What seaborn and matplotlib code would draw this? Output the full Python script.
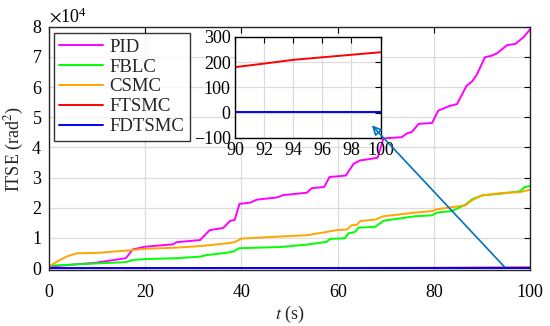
import pandas as pd
import matplotlib
matplotlib.use('Agg')
import matplotlib.pyplot as plt
import matplotlib.ticker as mticker
import seaborn as sns
import numpy as np

# ITSE curves (values in units of 1e4 rad^2)
t_pid = [0, 9.8, 16, 17.4, 20, 25.8, 26.5, 31.4, 33.4, 36.2, 37.6, 38.6, 39.6, 41.8, 43.2, 47.3,
         48.7, 53.6, 54.6, 57.2, 58.3, 59.8, 61.7, 63.3, 64.7, 66.4, 68.3, 69.5, 73.3, 74.4, 75.4,
         76.8, 79.6, 80.9, 83.0, 84.8, 86.8, 87.9, 88.9, 90.6, 92.0, 93.1, 95.2, 96.9, 98.6, 100]
pid = [0.05, 0.18, 0.33, 0.62, 0.71, 0.79, 0.86, 0.93, 1.26, 1.33, 1.56, 1.6, 2.13, 2.17, 2.27, 2.34,
       2.42, 2.5, 2.65, 2.69, 3.02, 3.04, 3.07, 3.46, 3.57, 3.61, 3.66, 4.3, 4.34, 4.47, 4.51,
       4.78, 4.81, 5.22, 5.36, 5.44, 6.05, 6.18, 6.41, 6.99, 7.04, 7.12, 7.39, 7.43, 7.65, 7.92]

t_fblc = [0, 10.5, 16, 17.4, 20, 26.5, 31.4, 32.7, 36.9, 38.3, 39.5, 48, 53.6, 57.7, 58.4, 61.5,
          62.2, 63.6, 64.3, 67.8, 69.5, 76.1, 79.6, 80.6, 83.7, 86.5, 87.9, 90, 94.1, 97.9, 98.9, 100]
fblc = [0.08, 0.16, 0.2, 0.27, 0.3, 0.33, 0.38, 0.43, 0.51, 0.55, 0.66, 0.7, 0.78, 0.87, 0.97, 0.99,
        1.15, 1.2, 1.34, 1.37, 1.57, 1.72, 1.75, 1.84, 1.89, 2.1, 2.28, 2.41, 2.47, 2.55, 2.69, 2.72]

t_csmc = [0, 1.5, 3.6, 5.7, 10.5, 16, 20, 26.5, 31.4, 36.9, 38.6, 40, 47, 53.6, 57.7, 59.8, 61.9,
          62.9, 64, 64.7, 67.8, 69.5, 76.1, 79.6, 80.6, 86.5, 87.9, 90, 94.1, 97.9, 100]
csmc = [0.05, 0.2, 0.38, 0.49, 0.51, 0.58, 0.64, 0.68, 0.73, 0.82, 0.86, 0.98, 1.04, 1.09, 1.2, 1.26,
        1.28, 1.42, 1.44, 1.56, 1.61, 1.72, 1.84, 1.89, 1.95, 2.08, 2.25, 2.41, 2.49, 2.52, 2.6]

# FTSMC and FDTSMC (rad^2), only readable in the zoomed inset
t_ftsmc = [0, 20, 40, 60, 80, 90, 92, 94, 96, 98, 100]
ftsmc = [0, 15, 35, 60, 100, 180, 194, 209, 219, 229, 239]
t_fdtsmc = [0, 20, 40, 60, 80, 90, 100]
fdtsmc = [2, 2, 2, 2, 2, 2, 2]

names = ['PID', 'FBLC', 'CSMC', 'FTSMC', 'FDTSMC']
colors = ['#ff00ff', '#00ff00', '#ffa500', '#ff0000', '#0000ff']

frames = [
    pd.DataFrame({'t': t_pid, 'ITSE': np.array(pid) * 1e4, 'method': 'PID'}),
    pd.DataFrame({'t': t_fblc, 'ITSE': np.array(fblc) * 1e4, 'method': 'FBLC'}),
    pd.DataFrame({'t': t_csmc, 'ITSE': np.array(csmc) * 1e4, 'method': 'CSMC'}),
    pd.DataFrame({'t': t_ftsmc, 'ITSE': ftsmc, 'method': 'FTSMC'}),
    pd.DataFrame({'t': t_fdtsmc, 'ITSE': fdtsmc, 'method': 'FDTSMC'}),
]
df = pd.concat(frames, ignore_index=True)

sns.set_theme(style='whitegrid')
plt.rcParams['font.family'] = ['Liberation Serif', 'DejaVu Serif']
plt.rcParams['mathtext.fontset'] = 'stix'
fs = 13

fig = plt.figure(figsize=(5.5, 3.26), dpi=100)
ax = fig.add_axes([0.089, 0.171, 0.875, 0.747])
sns.lineplot(data=df, x='t', y='ITSE', hue='method', hue_order=names, palette=colors,
             estimator=None, sort=False, linewidth=1.4, ax=ax)
ax.set_xlim(0, 100)
ax.set_ylim(-700, 80000)
ax.set_xticks(np.arange(0, 101, 20))
ax.set_yticks(np.arange(0, 80001, 10000))
fmt = mticker.ScalarFormatter(useMathText=True)
fmt.set_powerlimits((0, 0))
ax.yaxis.set_major_formatter(fmt)
ax.yaxis.get_offset_text().set_fontsize(fs)
ax.set_xlabel('$t$ (s)', fontsize=fs, labelpad=2)
ax.set_ylabel('ITSE (rad$^2$)', fontsize=fs, labelpad=4)
ax.tick_params(direction='in', top=True, right=True, labelsize=fs, length=4, width=0.8,
               colors='black')
ax.tick_params(axis='x', pad=10)
ax.tick_params(axis='y', pad=5)
for s in ax.spines.values():
    s.set_color('#262626')
    s.set_linewidth(1.0)
ax.grid(True, color='#dcdcdc', linewidth=0.9)

leg = ax.legend(loc='upper left', bbox_to_anchor=(0.01, 0.975), fontsize=13.5,
                handlelength=2.3, frameon=True, fancybox=False, borderpad=0.3,
                labelspacing=0.15, handletextpad=0.35, borderaxespad=0)
leg.get_frame().set_edgecolor('black')
leg.get_frame().set_linewidth(1.0)

# inset zoom over the last 10 s
axin = fig.add_axes([0.427, 0.577, 0.265, 0.31])
sns.lineplot(data=df[df['method'].isin(['FTSMC', 'FDTSMC'])], x='t', y='ITSE', hue='method',
             hue_order=['FTSMC', 'FDTSMC'], palette=colors[3:], estimator=None, sort=False,
             linewidth=1.4, legend=False, ax=axin)
axin.set_xlim(90, 100)
axin.set_ylim(-100, 300)
axin.set_xticks(np.arange(90, 101, 2))
axin.set_yticks(np.arange(-100, 301, 100))
axin.set_xlabel('')
axin.set_ylabel('')
axin.tick_params(direction='in', top=True, right=True, labelsize=fs, length=4, width=0.8,
                 colors='black', pad=3)
for s in axin.spines.values():
    s.set_color('black')
    s.set_linewidth(1.0)
axin.grid(True, color='#dcdcdc', linewidth=0.9)

axin.annotate('', xy=(67.1, 47300), xycoords=ax.transData, xytext=(94.6, 500),
              textcoords=ax.transData, annotation_clip=False,
              arrowprops=dict(arrowstyle='-|>', color='#0072BD', lw=1.2,
                              mutation_scale=14, fill=False, shrinkA=0, shrinkB=0))

fig.savefig('out.png', dpi=100)
